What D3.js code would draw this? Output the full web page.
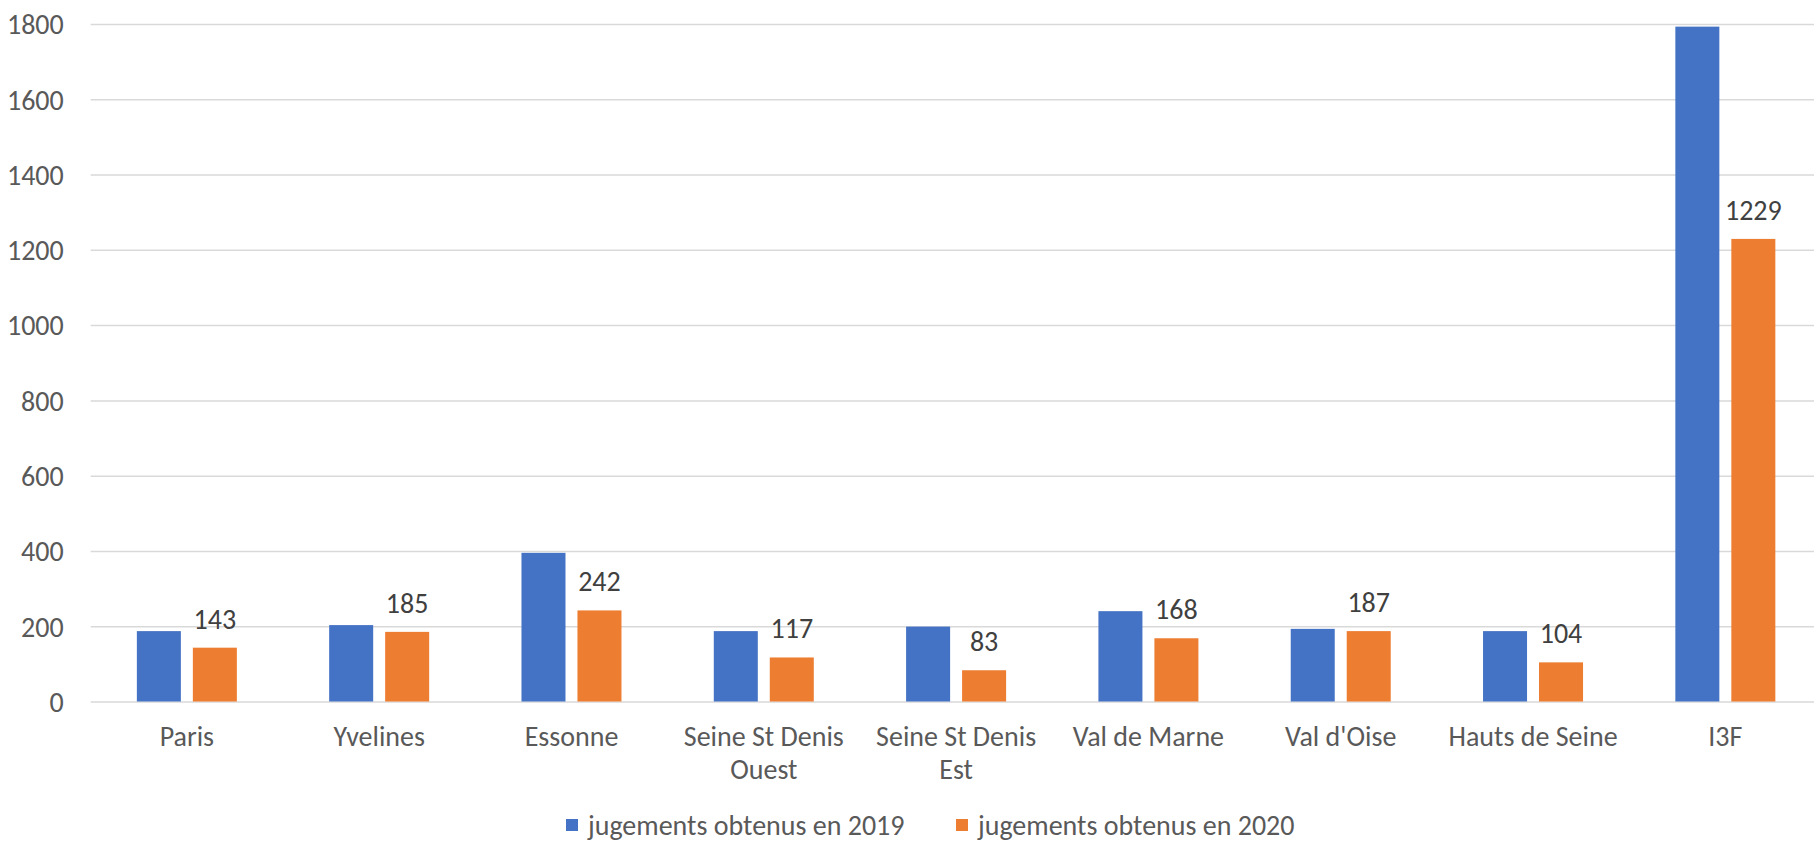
<!DOCTYPE html>
<html lang="fr">
<head>
<meta charset="UTF-8" />
<title>jugements obtenus</title>
<script src="https://cdn.jsdelivr.net/npm/d3@7"></script>
<style>
  body { margin: 0; background: #fff; }
  svg text { font-family: Carlito, "Liberation Sans Narrow", "DejaVu Sans Condensed", sans-serif; fill: #595959; }
</style>
</head>
<body>
<div class="chart"></div>
<script>
// categories (second line after "|")
const categories = [
  "Paris", "Yvelines", "Essonne", "Seine St Denis|Ouest", "Seine St Denis|Est",
  "Val de Marne", "Val d'Oise", "Hauts de Seine", "I3F"
];
const series = ["jugements obtenus en 2019", "jugements obtenus en 2020"];
const values2019 = [187, 203, 395, 187, 199, 240, 193, 187, 1793];
const values2020 = [143, 185, 242, 117, 83, 168, 187, 104, 1229];
const yTicks = [0, 200, 400, 600, 800, 1000, 1200, 1400, 1600, 1800];

const colors = ["#4472C4", "#ED7D31"];

const width = 1814, height = 842;
const plotLeft = 90.7, plotRight = 1821.5, plotTop = 24, plotBottom = 701.5;
const fontSize = "28px";

const data = categories.map((c, i) => ({ cat: c, vals: [values2019[i], values2020[i]] }));

const svg = d3.select(".chart").append("svg")
  .attr("width", width)
  .attr("height", height)
  .attr("viewBox", [0, 0, width, height]);

const y = d3.scaleLinear().domain([0, 1800]).range([plotBottom, plotTop]);
const x = d3.scaleBand().domain(categories).range([plotLeft, plotRight]);
const xs = d3.scaleBand().domain([0, 1])
  .range([x.bandwidth() / 2 - 50, x.bandwidth() / 2 + 50])
  .paddingInner(0.214);

// y axis + gridlines
const yAxis = svg.append("g")
  .attr("transform", `translate(${plotLeft},0)`)
  .call(d3.axisLeft(y).tickValues(yTicks).tickFormat(d3.format("d"))
    .tickSize(-(width - plotLeft)).tickPadding(27));
yAxis.select(".domain").remove();
yAxis.selectAll(".tick line").attr("stroke", "#d9d9d9").attr("stroke-width", 1.5);
yAxis.selectAll(".tick text").style("font-size", fontSize).attr("dy", "0.35em");

// x axis labels
const xAxis = svg.append("g")
  .attr("transform", `translate(0,${plotBottom})`)
  .call(d3.axisBottom(x).tickSize(0).tickPadding(0));
xAxis.select(".domain").remove();
xAxis.selectAll(".tick text").each(function (d) {
  const t = d3.select(this).text("").attr("y", 0).attr("dy", null).style("font-size", fontSize);
  d.split("|").forEach((line, k) => {
    t.append("tspan").attr("x", 0).attr("y", 44 + k * 33.5).text(line);
  });
});

// bars
const groups = svg.append("g").selectAll("g")
  .data(data)
  .join("g")
  .attr("transform", d => `translate(${x(d.cat)},0)`);

groups.selectAll("rect")
  .data(d => d.vals.map((v, k) => ({ k, v })))
  .join("rect")
  .attr("x", d => xs(d.k))
  .attr("width", xs.bandwidth())
  .attr("y", d => y(d.v))
  .attr("height", d => y(0) - y(d.v))
  .attr("fill", d => colors[d.k]);

// data labels on 2020 series only
groups.append("text")
  .attr("x", d => xs(1) + xs.bandwidth() / 2)
  .attr("y", d => y(d.vals[1]) - 19)
  .attr("text-anchor", "middle")
  .style("font-size", fontSize)
  .style("fill", "#404040")
  .text(d => d.vals[1]);

// legend (kept just inside the bottom edge)
const legendX = [566, 956];
const legend = svg.append("g").selectAll("g")
  .data(series)
  .join("g")
  .attr("transform", (d, i) => `translate(${legendX[i]},825)`);
legend.append("rect")
  .attr("x", 0).attr("y", -6)
  .attr("width", 12).attr("height", 12)
  .attr("fill", (d, i) => colors[i]);
legend.append("text")
  .attr("x", 22).attr("y", 0).attr("dy", "0.35em")
  .style("font-size", fontSize)
  .text(d => d);
</script>
</body>
</html>
